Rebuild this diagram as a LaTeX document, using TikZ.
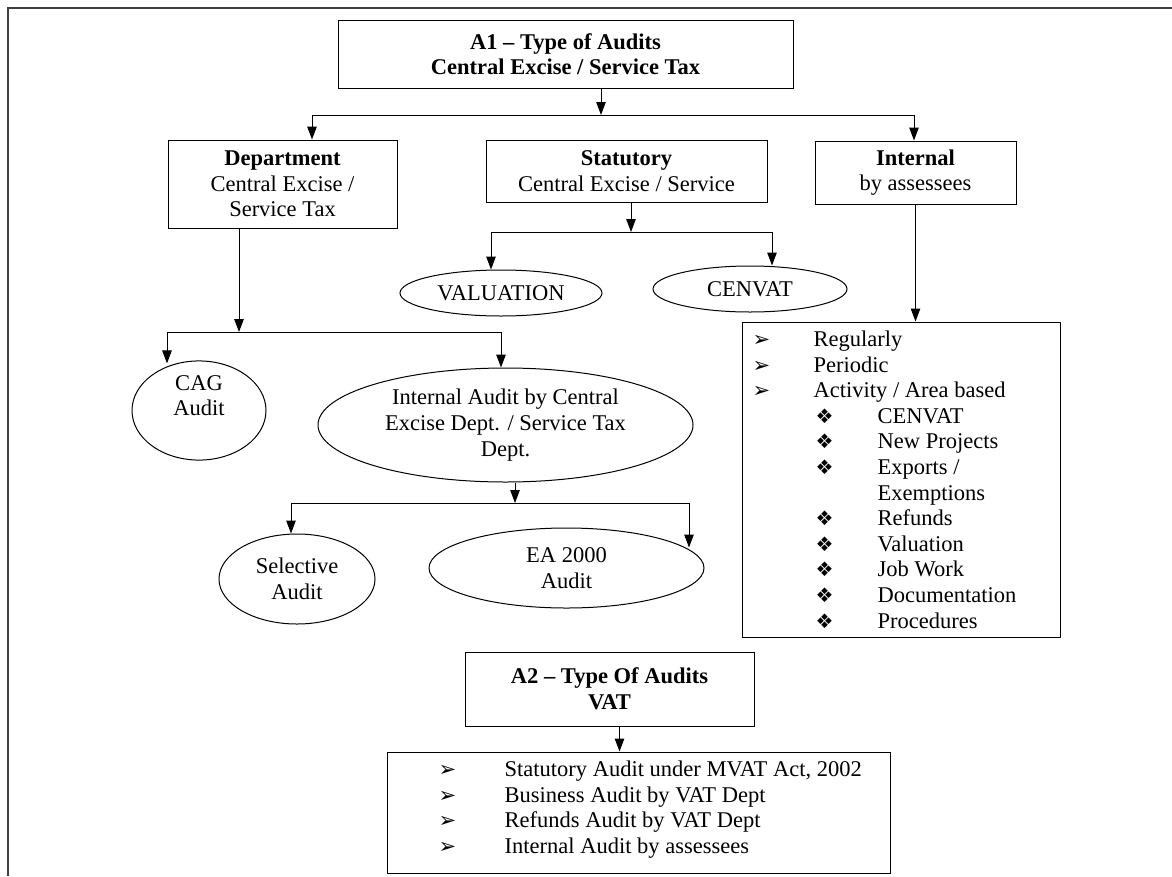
\documentclass[tikz,border=0pt]{standalone}
\usepackage{fontspec}
\setmainfont{Liberation Serif}
\newfontfamily\symf{DejaVu Sans}
\usetikzlibrary{arrows.meta,shapes.geometric,calc}
\newcommand\mybigbul[1]{\makebox[#1][l]{\symf\fontsize{21pt}{21pt}\selectfont ➢}}
\newcommand\mysubbul{\hspace*{63pt}\makebox[62pt][l]{\symf\fontsize{20pt}{20pt}\selectfont ❖}}
\begin{document}
\begin{tikzpicture}[x=1pt,y=-1pt,
  every node/.style={font=\fontsize{22.5pt}{25.6pt}\selectfont, inner sep=0pt},
  rbox/.style={draw, rectangle, line width=1pt, align=center},
  ell/.style={draw, ellipse, line width=1pt, align=center},
  conn/.style={line width=1pt},
  arr/.style={conn, -{Triangle[length=13pt,width=9.5pt]}}]
\useasboundingbox (0,0) rectangle (1172,876);
\draw[line width=2pt, black!75] (8,876) -- (8,8) -- (1172,8);

\node[rbox, minimum width=455, minimum height=68] (a1) at (565.5,54) {\textbf{A1 – Type of Audits}\\\textbf{Central Excise / Service Tax}};
\node[rbox, minimum width=229, minimum height=88] (dep) at (282.5,184) {\textbf{Department}\\Central Excise /\\Service Tax};
\node[rbox, minimum width=281, minimum height=62] (stat) at (626.5,171) {\textbf{Statutory}\\Central Excise / Service};
\node[rbox, minimum width=201, minimum height=63] (int) at (915.5,172.5) {\textbf{Internal}\\by assessees};
\node[ell, minimum width=202, minimum height=46] (val) at (501,293) {VALUATION};
\node[ell, minimum width=194, minimum height=46] (cen) at (750,289) {CENVAT};
\node[ell, minimum width=134, minimum height=85] (cag) at (199,410.5) {CAG\\Audit\\[4pt]};
\node[ell, minimum width=375, minimum height=114] (ia) at (505.5,425) {Internal Audit by Central\\Excise Dept. / Service Tax\\Dept.};
\node[ell, minimum width=156, minimum height=90] (sel) at (297,579) {Selective\\Audit};
\node[ell, minimum width=275, minimum height=80] (ea) at (566.5,568) {EA 2000\\Audit};
\node[rbox, minimum width=318, minimum height=315] (il) at (901,479.5) {};
\node[anchor=west, align=left] (iltext) at ([xshift=11pt]il.west) {%
\mybigbul{61pt}Regularly\\
\mybigbul{61pt}Periodic\\
\mybigbul{61pt}Activity / Area based\\
\mysubbul CENVAT\\
\mysubbul New Projects\\
\mysubbul Exports /\\
\hspace*{125pt}Exemptions\\
\mysubbul Refunds\\
\mysubbul Valuation\\
\mysubbul Job Work\\
\mysubbul Documentation\\
\mysubbul Procedures};
\node[rbox, minimum width=289, minimum height=74] (a2) at (609.5,689) {\textbf{A2 – Type Of Audits}\\\textbf{VAT}};
\node[rbox, minimum width=503, minimum height=121] (vat) at (638.5,812.5) {};
\node[anchor=west, align=left] (vattext) at ([xshift=52pt,yshift=3pt]vat.west) {%
\mybigbul{66pt}Statutory Audit under MVAT Act, 2002\\
\mybigbul{66pt}Business Audit by VAT Dept\\
\mybigbul{66pt}Refunds Audit by VAT Dept\\
\mybigbul{66pt}Internal Audit by assessees};

% connectors
\coordinate (t0) at (601,115); \coordinate (tl) at (312,115); \coordinate (tr) at (914,115);
\draw[arr] (a1.south -| t0) -- (t0);
\draw[conn] (tl) -- (tr);
\draw[arr] (tl) -- (tl |- dep.north);
\draw[arr] (tr) -- (tr |- int.north);

\coordinate (s0) at (631,232); \coordinate (sl) at (491,232); \coordinate (sr) at (772,232);
\draw[arr] (stat.south -| s0) -- (s0);
\draw[conn] (sl) -- (sr);
\draw[arr] (sl) -- (sl |- val.north);
\draw[arr] (sr) -- (sr |- cen.north);

\coordinate (d0) at (239,332); \coordinate (dl) at (167,332); \coordinate (dr) at (501,332);
\draw[arr] (dep.south -| d0) -- (d0);
\draw[conn] (dl) -- (dr);
\draw[arr] (dl) -- ($(dl |- cag.north)+(0,3)$);
\draw[arr] (dr) -- (dr |- ia.north);

\coordinate (i0) at (515,503); \coordinate (el) at (291,503); \coordinate (er) at (689,503);
\draw[arr] (ia.south -| i0) -- (i0);
\draw[conn] (el) -- (er);
\draw[arr] (el) -- (el |- sel.north);
\draw[arr] (er) -- ($(er |- ea.north)+(0,20)$);

\draw[arr] (int.south) -- (int.south |- il.north);
\draw[arr] ([xshift=10pt]a2.south) -- ([xshift=10pt]a2.south |- vat.north);
\end{tikzpicture}
\end{document}
